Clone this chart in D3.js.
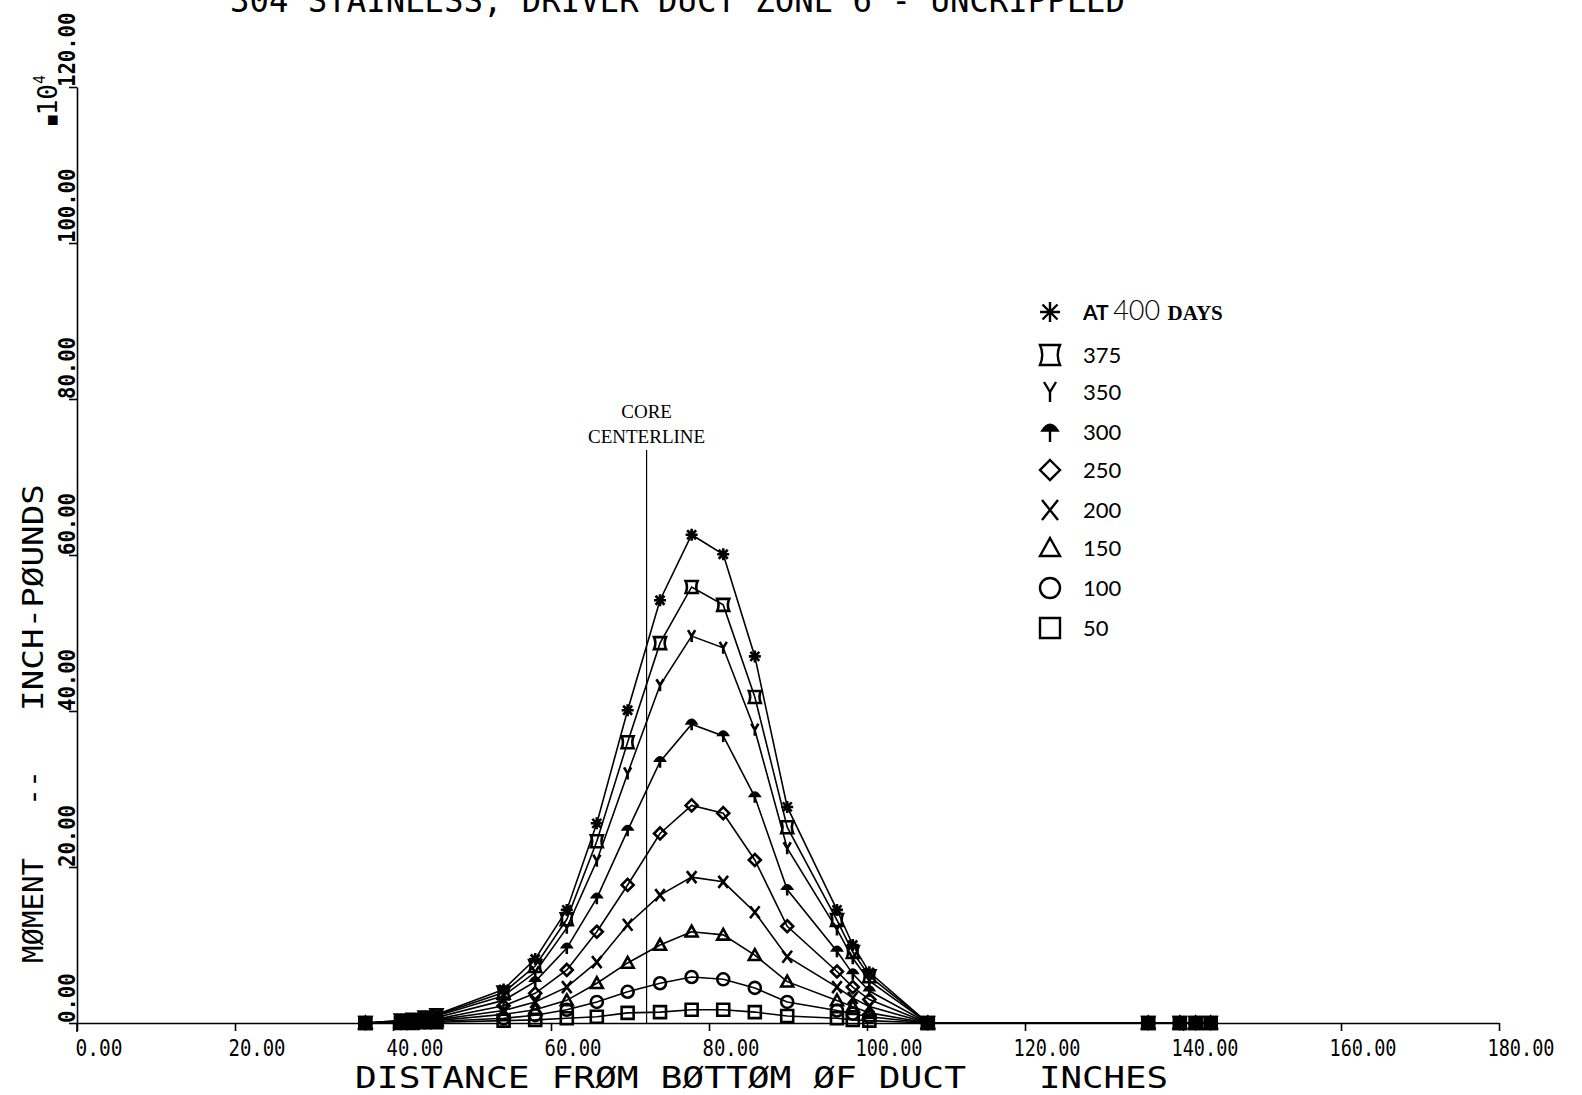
<!DOCTYPE html>
<html>
<head>
<meta charset="utf-8">
<script src="https://cdn.jsdelivr.net/npm/d3@7"></script>
<style>
  body { margin: 0; background: #fff; }
  svg { display: block; background: #fff; }
  .plot { font-family: "DejaVu Sans Mono", monospace; }
</style>
</head>
<body>
<svg id="chart" width="1582" height="1095"></svg>
<script>
// distance from bottom of duct (inches) at which moments were computed
const positions = [36.5, 41, 42.5, 44, 45.5, 54, 58, 62, 65.8, 69.7, 73.8, 77.8, 81.8, 85.8, 89.9,
                   96.2, 98.2, 100.3, 107.7, 135.6, 139.6, 141.6, 143.5];

// moment, units of 10^4 inch-pounds
const moment400 = [0, 0.3, 0.5, 0.8, 1.1, 4.3, 8.2, 14.5, 25.6, 40.1, 54.2, 62.6, 60.1, 47.0, 27.7, 14.5, 10.0, 6.5, 0, 0, 0, 0, 0];
const moment375 = [0, 0.3, 0.4, 0.7, 1.0, 3.9, 7.3, 13.3, 23.3, 36.0, 48.7, 55.9, 53.6, 41.8, 25.1, 13.2, 9.1, 6.0, 0, 0, 0, 0, 0];
const moment350 = [0, 0.2, 0.4, 0.6, 0.9, 3.5, 6.5, 12.2, 20.8, 32.0, 43.3, 49.6, 48.1, 37.6, 22.4, 12.0, 8.3, 5.4, 0, 0, 0, 0, 0];
const moment300 = [0, 0.2, 0.3, 0.5, 0.7, 2.9, 5.3, 9.6, 16.0, 24.7, 33.5, 38.3, 36.8, 29.0, 17.1, 9.2, 6.3, 4.1, 0, 0, 0, 0, 0];
const moment250 = [0, 0.1, 0.2, 0.4, 0.5, 2.2, 3.8, 6.8, 11.7, 17.7, 24.3, 27.9, 26.9, 20.9, 12.4, 6.6, 4.6, 3.0, 0, 0, 0, 0, 0];
const moment200 = [0, 0.1, 0.2, 0.3, 0.4, 1.6, 2.7, 4.6, 7.8, 12.6, 16.4, 18.7, 18.1, 14.2, 8.5, 4.6, 3.2, 2.1, 0, 0, 0, 0, 0];
const moment150 = [0, 0.1, 0.1, 0.2, 0.3, 1.1, 1.7, 2.9, 5.1, 7.7, 10.0, 11.7, 11.3, 8.7, 5.3, 2.9, 2.1, 1.3, 0, 0, 0, 0, 0];
const moment100 = [0, 0, 0.1, 0.1, 0.2, 0.6, 1.0, 1.7, 2.7, 4.0, 5.1, 5.9, 5.6, 4.5, 2.7, 1.6, 1.2, 0.8, 0, 0, 0, 0, 0];
const moment50  = [0, 0, 0, 0.1, 0.1, 0.3, 0.4, 0.6, 0.8, 1.3, 1.4, 1.7, 1.7, 1.4, 0.9, 0.6, 0.4, 0.3, 0, 0, 0, 0, 0];

const seriesDays = [400, 375, 350, 300, 250, 200, 150, 100, 50];
const seriesValues = [moment400, moment375, moment350, moment300, moment250, moment200, moment150, moment100, moment50];
const seriesSymbols = ["asterisk", "bowtie", "y", "umbrella", "diamond", "cross", "triangle", "circle", "square"];
const legendLabels = ["AT 400 DAYS", "375", "350", "300", "250", "200", "150", "100", "50"];

const xTicks = [0, 20, 40, 60, 80, 100, 120, 140, 160, 180];
const yTicks = [0, 20, 40, 60, 80, 100, 120];
const coreCenterline = 72.1;

const svg = d3.select("#chart");
const g = svg.append("g").attr("class", "plot");

const x = d3.scaleLinear().domain([0, 180]).range([77, 1499]);
const y = d3.scaleLinear().domain([0, 120]).range([1023, 87]);

// plotter style symbols, centred on 0,0
function symbolPath(kind, s) {
    const h = s / 2;
    switch (kind) {
        case "asterisk":
            return `M0,${-h}L0,${h}M${-h},0L${h},0M${-h*0.75},${-h*0.75}L${h*0.75},${h*0.75}M${-h*0.75},${h*0.75}L${h*0.75},${-h*0.75}`;
        case "bowtie":
            return `M${-h},${-h}L${h},${-h}Q${h*0.55},0 ${h},${h}L${-h},${h}Q${-h*0.55},0 ${-h},${-h}Z`;
        case "y":
            return `M${-h*0.6},${-h}L0,0L${h*0.6},${-h}M0,0L0,${h}`;
        case "umbrella":
            return `M${-h*0.75},${-h*0.15}Q0,${-h*1.3} ${h*0.75},${-h*0.15}ZM0,${-h*0.3}L0,${h}`;
        case "diamond":
            return `M0,${-h}L${h},0L0,${h}L${-h},0Z`;
        case "cross":
            return `M${-h*0.8},${-h}L${h*0.8},${h}M${-h*0.8},${h}L${h*0.8},${-h}`;
        case "triangle":
            return `M0,${-h}L${h},${h*0.8}L${-h},${h*0.8}Z`;
        case "circle":
            return `M${h},0A${h},${h} 0 1,1 ${-h},0A${h},${h} 0 1,1 ${h},0Z`;
        case "square":
            return `M${-h},${-h}L${h},${-h}L${h},${h}L${-h},${h}Z`;
    }
}

// title, cut off at the top edge as in the scan
g.append("text")
    .attr("x", 230).attr("y", 12)
    .attr("font-size", 34)
    .attr("textLength", 895).attr("lengthAdjust", "spacingAndGlyphs")
    .text("304   STAINLESS, DRIVER DUCT ZONE 6 - UNCRIPPLED");

// axes
const xAxis = d3.axisBottom(x).tickValues(xTicks).tickSize(8).tickSizeOuter(0).tickFormat("");
const yAxis = d3.axisLeft(y).tickValues(yTicks).tickSize(8).tickSizeOuter(0).tickFormat("");

g.append("g").attr("transform", `translate(0,${y(0)})`).call(xAxis)
    .call(a => a.selectAll("line, path").attr("stroke", "#000").attr("stroke-width", 1.6));
g.append("g").attr("transform", `translate(${x(0)},0)`).call(yAxis)
    .call(a => a.selectAll("line, path").attr("stroke", "#000").attr("stroke-width", 1.6));
// y axis runs a little below the origin
g.append("line").attr("x1", x(0)).attr("x2", x(0)).attr("y1", y(0)).attr("y2", y(0) + 9)
    .attr("stroke", "#000").attr("stroke-width", 1.6);

xTicks.forEach(t => {
    const label = t.toFixed(2);
    g.append("text")
        .attr("x", x(t) + 22).attr("y", 1056)
        .attr("text-anchor", "middle")
        .attr("font-size", 23)
        .attr("textLength", label.length * 10 + 7).attr("lengthAdjust", "spacingAndGlyphs")
        .text(label);
});

yTicks.forEach(t => {
    const label = t.toFixed(2);
    g.append("text")
        .attr("transform", `translate(75,${y(t)}) rotate(-90)`)
        .attr("font-size", 23).attr("font-weight", "bold")
        .attr("textLength", label.length * 12.4).attr("lengthAdjust", "spacingAndGlyphs")
        .text(label);
});

// scale factor label, in its own column left of the top tick label
const sf = g.append("text")
    .attr("transform", `translate(57,${y(120) + 38}) rotate(-90)`)
    .attr("font-size", 26);
sf.append("tspan").attr("font-size", 16).attr("font-weight", "bold").text("■");
sf.append("tspan").text("10");
sf.append("tspan").attr("font-size", 15).attr("dy", -12).text("4");

// axis titles
const yTitle = [["MØMENT", 963, 105], ["--", 806, 36], ["INCH-PØUNDS", 711, 227]];
yTitle.forEach(([txt, pos, len]) => {
    g.append("text")
        .attr("transform", `translate(43,${pos}) rotate(-90)`)
        .attr("font-size", 29)
        .attr("textLength", len).attr("lengthAdjust", "spacingAndGlyphs")
        .text(txt);
});

const xTitle = [["DISTANCE FRØM BØTTØM ØF DUCT", 355, 611], ["INCHES", 1039, 129]];
xTitle.forEach(([txt, pos, len]) => {
    g.append("text")
        .attr("x", pos).attr("y", 1088)
        .attr("font-size", 31)
        .attr("textLength", len).attr("lengthAdjust", "spacingAndGlyphs")
        .text(txt);
});

// core centerline
g.append("line")
    .attr("x1", x(coreCenterline)).attr("x2", x(coreCenterline))
    .attr("y1", 450).attr("y2", y(0))
    .attr("stroke", "#000").attr("stroke-width", 1.2);
g.append("text")
    .attr("x", x(coreCenterline)).attr("y", 418)
    .attr("text-anchor", "middle")
    .attr("font-family", "Liberation Serif, serif").attr("font-size", 19)
    .text("CORE");
g.append("text")
    .attr("x", x(coreCenterline)).attr("y", 443)
    .attr("text-anchor", "middle")
    .attr("font-family", "Liberation Serif, serif").attr("font-size", 19)
    .text("CENTERLINE");

// curves
const line = d3.line()
    .x((d, i) => x(positions[i]))
    .y(d => y(d));

seriesValues.forEach((vals, k) => {
    g.append("path")
        .datum(vals)
        .attr("d", line)
        .attr("fill", "none")
        .attr("stroke", "#000")
        .attr("stroke-width", 1.6);

    g.append("g").selectAll("path")
        .data(vals)
        .join("path")
        .attr("transform", (d, i) => `translate(${x(positions[i])},${y(d)})`)
        .attr("d", symbolPath(seriesSymbols[k], 12))
        .attr("fill", seriesSymbols[k] === "umbrella" ? "#000" : "none")
        .attr("stroke", "#000")
        .attr("stroke-width", 2.6);
});

// legend
const legendY = [312, 355, 392, 432, 470, 510, 548, 588, 628];
const legend = g.append("g");
seriesDays.forEach((d, k) => {
    legend.append("path")
        .attr("transform", `translate(1050,${legendY[k]})`)
        .attr("d", symbolPath(seriesSymbols[k], 20))
        .attr("fill", seriesSymbols[k] === "umbrella" ? "#000" : "none")
        .attr("stroke", "#000")
        .attr("stroke-width", 2.4);
    const t = legend.append("text")
        .attr("x", 1083).attr("y", legendY[k] + 8)
        .attr("font-family", "Lato, sans-serif")
        .attr("font-size", 22);
    if (k === 0) {
        t.append("tspan").attr("font-weight", "bold").attr("font-size", 21).text("AT ");
        t.append("tspan").attr("font-weight", "300").attr("font-size", 27).text("400 ");
        t.append("tspan").attr("font-family", "Liberation Serif, serif").attr("font-weight", "bold")
            .attr("font-size", 21).text("DAYS");
    } else {
        t.text(legendLabels[k]);
    }
});
</script>
</body>
</html>
